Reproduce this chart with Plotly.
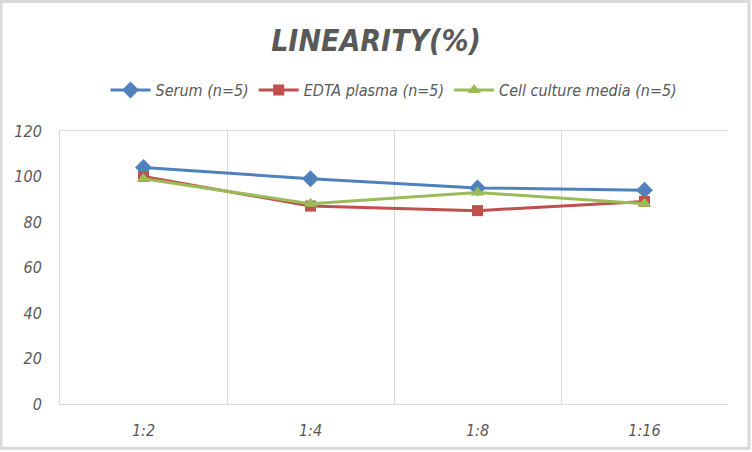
import plotly.graph_objects as go

# dilution steps and linearity recovery (%) per sample type
dilutions = ['1:2', '1:4', '1:8', '1:16']
serum = [104, 99, 95, 94]
edta_plasma = [100, 87, 85, 89]
cell_culture = [99, 88, 93, 88]

series = [
    ('Serum (n=5)', serum, '#4F81BD', 'diamond', 13),
    ('EDTA plasma (n=5)', edta_plasma, '#C0504D', 'square', 11),
    ('Cell culture media (n=5)', cell_culture, '#9BBB59', 'triangle-up', 12),
]

font_family = "DejaVu Sans Condensed, Lato, sans-serif"
grey_text = '#595959'
grid_col = '#D9D9D9'

fig = go.Figure()
for name, vals, col, sym, size in series:
    fig.add_trace(go.Scatter(
        x=dilutions, y=vals, name=name, mode='lines+markers',
        line=dict(color=col, width=3),
        marker=dict(symbol=sym, size=size, color=col),
    ))

fig.update_layout(
    width=752, height=452,
    margin=dict(l=60, r=24, t=131, b=46),
    paper_bgcolor='white', plot_bgcolor='white',
    title=dict(
        text='LINEARITY(%)', x=0.5, xanchor='center', y=0.91, yanchor='middle',
        font=dict(family=font_family, size=30, color=grey_text, weight='bold', style='italic'),
    ),
    legend=dict(
        orientation='h', x=0.5, xanchor='center', y=1.15, yanchor='middle',
        font=dict(family=font_family, size=16, color=grey_text, style='italic'),
        itemwidth=40, tracegroupgap=0,
    ),
    font=dict(family=font_family, color=grey_text),
)

fig.update_xaxes(
    type='category', range=[-0.5, 3.5], tickson='boundaries', showgrid=True,
    gridcolor=grid_col, showline=True, linecolor=grid_col, mirror=True,
    ticks='', ticklen=0, ticklabelstandoff=12,
    tickfont=dict(family=font_family, size=16, color=grey_text, style='italic'),
)
fig.update_yaxes(
    range=[0, 120], dtick=20, showgrid=False, zeroline=False,
    showline=True, linecolor=grid_col,
    tickfont=dict(family=font_family, size=16, color=grey_text, style='italic'),
    ticklabelstandoff=14,
)

# outer frame of the picture
fig.add_shape(
    type='rect', xref='paper', yref='paper',
    x0=-59 / 668, x1=689 / 668, y0=-44.5 / 275, y1=(275 + 130.5) / 275,
    line=dict(color='#D9D9D9', width=3),
)

fig.write_html("out.html", config={'displayModeBar': False},
               post_script="document.body.style.margin='0';")
